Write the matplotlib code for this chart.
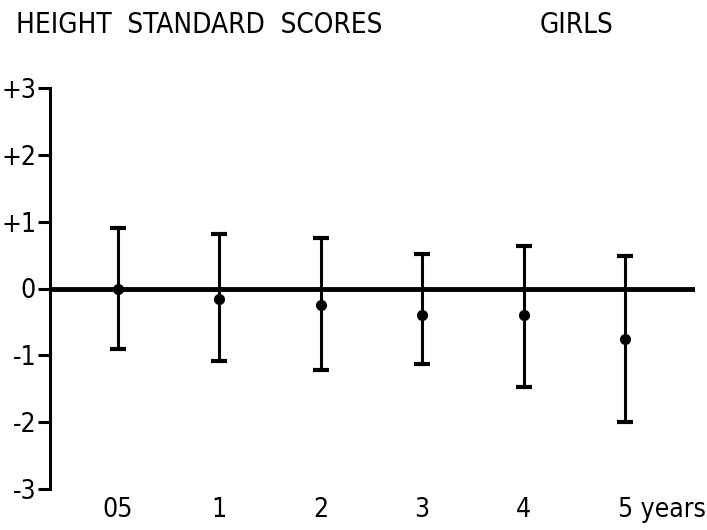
import matplotlib
matplotlib.use("Agg")
import matplotlib.pyplot as plt
import matplotlib.transforms as mtransforms

plt.rcParams['font.family'] = ['DejaVu Sans']
plt.rcParams['font.stretch'] = 'condensed'

# height standard scores (mean and range) by age
ages = ["05", "1", "2", "3", "4", "5 years"]
means = [0.00, -0.15, -0.25, -0.40, -0.40, -0.76]
upper = [0.91, 0.81, 0.75, 0.51, 0.64, 0.49]
lower = [-0.91, -1.09, -1.22, -1.13, -1.48, -2.00]
y_ticks = [3, 2, 1, 0, -1, -2, -3]
y_labels = ["+3", "+2", "+1", "0", "-1", "-2", "-3"]

fig = plt.figure(figsize=(7.07, 5.30), dpi=100)
ax = fig.add_axes([50 / 707, 41 / 530, 645 / 707, 401 / 530])

pos = list(range(len(ages)))
err_lo = [m - lo for m, lo in zip(means, lower)]
err_hi = [hi - m for m, hi in zip(means, upper)]
ax.errorbar(pos, means, yerr=[err_lo, err_hi], fmt='o', color='black',
            ms=7, elinewidth=2.2, capsize=5.5, capthick=3, zorder=3)
ax.axhline(0, color='black', lw=3.5, zorder=2)

ax.set_xlim(-0.67, 5.69)
ax.set_ylim(-3, 3)

for side in ['top', 'right', 'bottom']:
    ax.spines[side].set_visible(False)
ax.spines['left'].set_linewidth(2.2)

ax.set_yticks(y_ticks)
ax.set_yticklabels(y_labels)
ax.tick_params(axis='y', length=9, width=2.2, pad=1, labelsize=19)

ax.set_xticks(pos)
ax.set_xticklabels(ages)
ax.tick_params(axis='x', length=0, pad=6, labelsize=19)
# last label carries the unit: keep its number under the bar
last = ax.get_xticklabels()[-1]
last.set_horizontalalignment('left')
last.set_transform(last.get_transform() +
                   mtransforms.ScaledTranslation(-5 / 72, 0, fig.dpi_scale_trans))

fig.text(16 / 707, 1 - 25 / 530, "HEIGHT  STANDARD  SCORES", fontsize=20,
         ha='left', va='center')
fig.text(540 / 707, 1 - 25 / 530, "GIRLS", fontsize=20, ha='left', va='center')

fig.savefig("out.png", dpi=100)
